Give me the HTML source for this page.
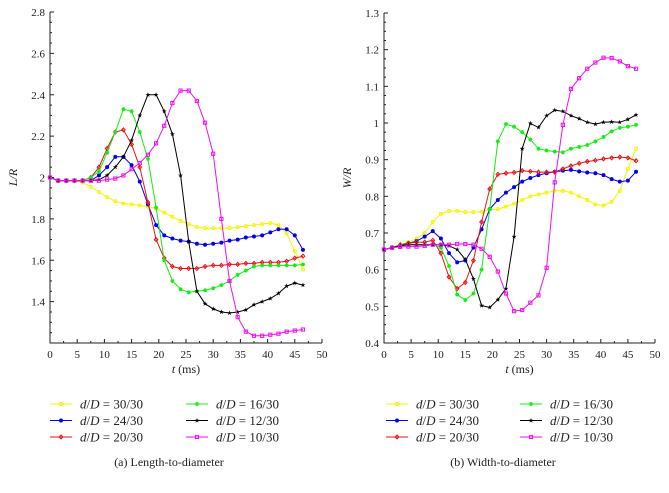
<!DOCTYPE html>
<html><head><meta charset="utf-8"><style>
body{margin:0;background:#fff;width:669px;height:488px;overflow:hidden}
svg text{font-family:"Liberation Serif",serif;fill:#222}
</style></head><body>
<svg id="s" width="669" height="488"></svg>
<script>
const tVals=[0,1.5,3,4.5,6,7.5,9,10.5,12,13.5,15,16.5,18,19.5,21,22.5,24,25.5,27,28.5,30,31.5,33,34.5,36,37.5,39,40.5,42,43.5,45,46.5];
const seriesLabels=["d/D = 30/30","d/D = 24/30","d/D = 20/30","d/D = 16/30","d/D = 12/30","d/D = 10/30"];
const LR_y30=[2.0,1.985,1.985,1.985,1.975,1.955,1.93,1.905,1.885,1.875,1.87,1.865,1.86,1.85,1.83,1.81,1.79,1.775,1.76,1.755,1.755,1.755,1.755,1.76,1.765,1.77,1.775,1.78,1.77,1.73,1.645,1.555];
const LR_y24=[2.0,1.985,1.985,1.985,1.985,1.985,2.01,2.05,2.1,2.1,2.06,1.98,1.87,1.77,1.72,1.705,1.695,1.69,1.68,1.675,1.68,1.685,1.695,1.70,1.71,1.715,1.72,1.735,1.75,1.75,1.72,1.65];
const LR_y20=[2.0,1.985,1.985,1.985,1.985,2.0,2.05,2.14,2.22,2.23,2.16,2.05,1.88,1.70,1.61,1.57,1.56,1.56,1.56,1.57,1.575,1.575,1.58,1.58,1.585,1.585,1.59,1.59,1.59,1.595,1.61,1.62];
const LR_y16=[2.0,1.985,1.985,1.985,1.985,2.0,2.03,2.12,2.22,2.33,2.32,2.22,2.09,1.855,1.60,1.50,1.46,1.445,1.45,1.455,1.465,1.48,1.50,1.53,1.55,1.57,1.575,1.575,1.575,1.575,1.575,1.58];
const LR_y12=[2.0,1.985,1.985,1.985,1.985,1.985,1.99,2.01,2.05,2.10,2.18,2.30,2.40,2.40,2.32,2.21,2.01,1.69,1.45,1.39,1.365,1.35,1.345,1.35,1.36,1.385,1.40,1.415,1.44,1.475,1.49,1.48];
const LR_y10=[2.0,1.985,1.985,1.985,1.985,1.985,1.985,1.99,1.995,2.01,2.04,2.07,2.11,2.165,2.25,2.36,2.42,2.42,2.37,2.265,2.115,1.80,1.50,1.325,1.255,1.235,1.235,1.24,1.245,1.255,1.26,1.265];
const WR_y30=[0.655,0.66,0.668,0.675,0.685,0.70,0.73,0.752,0.76,0.76,0.757,0.757,0.758,0.765,0.765,0.772,0.78,0.79,0.80,0.805,0.81,0.815,0.815,0.81,0.80,0.79,0.778,0.775,0.785,0.815,0.875,0.93];
const WR_y24=[0.655,0.66,0.665,0.672,0.678,0.69,0.705,0.685,0.645,0.62,0.625,0.66,0.71,0.765,0.79,0.81,0.825,0.84,0.85,0.858,0.863,0.867,0.87,0.872,0.868,0.865,0.863,0.858,0.847,0.84,0.843,0.867];
const WR_y20=[0.655,0.66,0.668,0.672,0.675,0.675,0.68,0.645,0.58,0.548,0.565,0.625,0.73,0.82,0.86,0.863,0.865,0.87,0.868,0.866,0.866,0.866,0.875,0.883,0.89,0.895,0.898,0.902,0.905,0.907,0.905,0.897];
const WR_y16=[0.655,0.66,0.665,0.668,0.668,0.668,0.668,0.66,0.61,0.532,0.517,0.535,0.60,0.765,0.95,0.997,0.99,0.975,0.955,0.93,0.925,0.922,0.92,0.93,0.935,0.94,0.95,0.962,0.977,0.987,0.99,0.995];
const WR_y12=[0.655,0.66,0.665,0.668,0.668,0.668,0.668,0.668,0.665,0.655,0.628,0.575,0.502,0.497,0.518,0.548,0.69,0.93,0.999,0.988,1.02,1.035,1.032,1.02,1.012,1.002,0.997,1.002,1.003,1.002,1.01,1.022];
const WR_y10=[0.655,0.66,0.662,0.663,0.663,0.665,0.668,0.668,0.668,0.67,0.67,0.668,0.657,0.635,0.595,0.535,0.487,0.49,0.51,0.53,0.605,0.838,0.995,1.093,1.122,1.148,1.165,1.178,1.177,1.168,1.155,1.148];
const xTicks=[0,5,10,15,20,25,30,35,40,45,50];
const LR_ticks=[1.4,1.6,1.8,2,2.2,2.4,2.6,2.8];
const WR_ticks=[0.4,0.5,0.6,0.7,0.8,0.9,1,1.1,1.2,1.3];

const colors=["#f4f400","#0000ee","#ee1111","#11ee11","#000000","#ee11ee"];
const markers=["circle","dot","diamond","star4","star","square"];
const NS="http://www.w3.org/2000/svg";
const svg=document.getElementById('s');
function el(tag,attrs,parent){const e=document.createElementNS(NS,tag);for(const k in attrs)e.setAttribute(k,attrs[k]);(parent||svg).appendChild(e);return e;}
function marker(g,type,x,y,c){
  let m;
  if(type==="circle"||type==="dot") m=el('circle',{cx:x,cy:y,r:1.5,fill:type==="dot"?c:'none',stroke:c,'stroke-width':1},g);
  else if(type==="diamond") m=el('path',{d:`M${x} ${y-2}L${x+1.8} ${y}L${x} ${y+2}L${x-1.8} ${y}Z`,fill:'none',stroke:c,'stroke-width':1},g);
  else if(type==="square") m=el('rect',{x:x-1.6,y:y-1.6,width:3.2,height:3.2,fill:'none',stroke:c,'stroke-width':1},g);
  else if(type==="star4") m=el('path',{d:`M${x-2} ${y}H${x+2}M${x} ${y-2}V${y+2}M${x-1.4} ${y-1.4}L${x+1.4} ${y+1.4}M${x+1.4} ${y-1.4}L${x-1.4} ${y+1.4}`,stroke:c,'stroke-width':1.1},g);
  else {let p='';for(let i=0;i<10;i++){const r=i%2?1:2.6,a=-Math.PI/2+i*Math.PI/5;p+=(i?'L':'M')+(x+r*Math.cos(a)).toFixed(2)+' '+(y+r*Math.sin(a)).toFixed(2);}m=el('path',{d:p+'Z',fill:c},g);}
  
  
}
function chart(id,px0,px1,py0,py1,ymin,ymax,yTicks,series,ylabel){
  const g=el('g',{});
  
  
  const X=v=>px0+(v-0)/(50-0)*(px1-px0);
  const Y=v=>py1-(v-ymin)/(ymax-ymin)*(py1-py0);
  const ax=el('path',{d:`M${px0} ${py0}V${py1}H${px1}`,fill:'none',stroke:'#222','stroke-width':1},g);
  
  
  xTicks.forEach(t=>{
    el('line',{x1:X(t),x2:X(t),y1:py1,y2:py1-4,stroke:'#222'},g);
    if(t<50) el('line',{x1:X(t+2.5),x2:X(t+2.5),y1:py1,y2:py1-2,stroke:'#222'},g);
    const tx=el('text',{x:X(t),y:py1+15,'text-anchor':'middle','font-size':11},g);tx.textContent=t;
    
    
  });
  const step=yTicks[1]-yTicks[0];
  for(let v=ymin;v<=ymax+1e-9;v+=step/4){el('line',{x1:px0,x2:px0+(Math.abs(((v-ymin)/step)-Math.round((v-ymin)/step))<1e-6?4:2),y1:Y(v),y2:Y(v),stroke:'#222'},g);}
  yTicks.forEach(v=>{
    const tx=el('text',{x:px0-5,y:Y(v)+4,'text-anchor':'end','font-size':11},g);tx.textContent=String(+v.toFixed(2));
    
    
  });
  const yl=el('text',{x:0,y:0,'font-size':12,'font-style':'italic',transform:`translate(${px0-33},${(py0+py1)/2}) rotate(-90)`,'text-anchor':'middle'},g);yl.textContent=ylabel;
  
  
  const xl=el('text',{x:(px0+px1)/2,y:py1+30,'text-anchor':'middle','font-size':12},g);xl.innerHTML='<tspan font-style="italic">t</tspan> (ms)';
  
  
  series.forEach((d,i)=>{
    const sg=el('g',{},g);
    
    
    el('polyline',{points:d.map((v,j)=>X(tVals[j]).toFixed(1)+','+Y(v).toFixed(1)).join(' '),fill:'none',stroke:colors[i],'stroke-width':1},sg);
    d.forEach((v,j)=>marker(sg,markers[i],X(tVals[j]),Y(v),colors[i]));
  });
}
function legend(id,x0,x1,ys,caption,cx){
  const g=el('g',{});
  
  
  seriesLabels.forEach((lab,i)=>{
    const col=Math.floor(i/3),row=i%3;
    const lx=col?x1:x0,y=ys+row*16.5;
    const lg=el('g',{},g);
    
    
    el('line',{x1:lx,x2:lx+22,y1:y,y2:y,stroke:colors[i],'stroke-width':1.1},lg);
    marker(lg,markers[i],lx+11,y,colors[i]);
    const t=el('text',{x:lx+30,y:y+4.5,'font-size':13},lg);
    t.innerHTML='<tspan font-style="italic">d</tspan>/<tspan font-style="italic">D</tspan> = '+lab.split('= ')[1];
  });
  const c=el('text',{x:cx,y:466,'text-anchor':'middle','font-size':12},g);c.textContent=caption;
  
  
}
chart('chart-length',50,322,12,343,1.2,2.8,LR_ticks,[LR_y30,LR_y24,LR_y20,LR_y16,LR_y12,LR_y10],'L/R');
chart('chart-width',384,655,13,343,0.4,1.3,WR_ticks,[WR_y30,WR_y24,WR_y20,WR_y16,WR_y12,WR_y10],'W/R');
legend('legend-length',50,186,404,'(a)  Length-to-diameter',169);
legend('legend-width',386,520,404,'(b)  Width-to-diameter',503);
</script>
</body></html>
